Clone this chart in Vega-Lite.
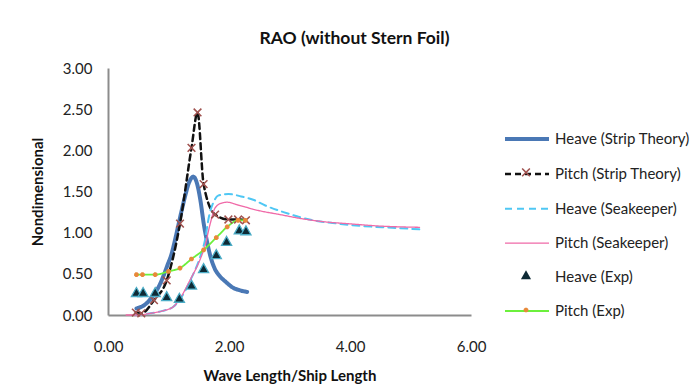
{
  "$schema": "https://vega.github.io/schema/vega-lite/v6.json",
  "width": 363,
  "height": 247,
  "autosize": {"type": "none"},
  "padding": {"left": 108, "top": 68, "right": 225, "bottom": 73},
  "background": "white",
  "title": {"text": "RAO (without Stern Foil)", "anchor": "middle", "dx": 65, "offset": 14, "font": "Lato", "fontSize": 17.5, "fontWeight": "bold", "color": "#111111"},
  "config": {
    "view": {"stroke": null},
    "font": "Lato",
    "axis": {"grid": false, "ticks": false, "domain": true, "domainColor": "#8c8c8c", "domainWidth": 2, "labelFlush": false, "labelFont": "Lato", "labelFontSize": 15, "labelColor": "#222222", "titleFont": "Lato", "titleFontSize": 15, "titleFontWeight": "bold", "titleColor": "#111111"}
  },
  "datasets": {
    "lines": [
      {"series": "Heave (Strip Theory)", "x": 0.47, "y": 0.08},
      {"series": "Heave (Strip Theory)", "x": 0.6, "y": 0.12},
      {"series": "Heave (Strip Theory)", "x": 0.75, "y": 0.24},
      {"series": "Heave (Strip Theory)", "x": 0.85, "y": 0.36},
      {"series": "Heave (Strip Theory)", "x": 0.92, "y": 0.48},
      {"series": "Heave (Strip Theory)", "x": 0.98, "y": 0.6},
      {"series": "Heave (Strip Theory)", "x": 1.05, "y": 0.74},
      {"series": "Heave (Strip Theory)", "x": 1.12, "y": 0.95},
      {"series": "Heave (Strip Theory)", "x": 1.19, "y": 1.18},
      {"series": "Heave (Strip Theory)", "x": 1.27, "y": 1.43},
      {"series": "Heave (Strip Theory)", "x": 1.34, "y": 1.61},
      {"series": "Heave (Strip Theory)", "x": 1.41, "y": 1.68},
      {"series": "Heave (Strip Theory)", "x": 1.47, "y": 1.6},
      {"series": "Heave (Strip Theory)", "x": 1.53, "y": 1.38},
      {"series": "Heave (Strip Theory)", "x": 1.58, "y": 1.12},
      {"series": "Heave (Strip Theory)", "x": 1.64, "y": 0.88},
      {"series": "Heave (Strip Theory)", "x": 1.69, "y": 0.72},
      {"series": "Heave (Strip Theory)", "x": 1.76, "y": 0.57},
      {"series": "Heave (Strip Theory)", "x": 1.85, "y": 0.47},
      {"series": "Heave (Strip Theory)", "x": 1.95, "y": 0.4},
      {"series": "Heave (Strip Theory)", "x": 2.07, "y": 0.33},
      {"series": "Heave (Strip Theory)", "x": 2.18, "y": 0.3},
      {"series": "Heave (Strip Theory)", "x": 2.3, "y": 0.28},
      {"series": "Pitch (Strip Theory)", "x": 0.46, "y": 0.03},
      {"series": "Pitch (Strip Theory)", "x": 0.55, "y": 0.02},
      {"series": "Pitch (Strip Theory)", "x": 0.76, "y": 0.18},
      {"series": "Pitch (Strip Theory)", "x": 0.97, "y": 0.42},
      {"series": "Pitch (Strip Theory)", "x": 1.19, "y": 1.11},
      {"series": "Pitch (Strip Theory)", "x": 1.38, "y": 2.03},
      {"series": "Pitch (Strip Theory)", "x": 1.48, "y": 2.46},
      {"series": "Pitch (Strip Theory)", "x": 1.58, "y": 1.59},
      {"series": "Pitch (Strip Theory)", "x": 1.77, "y": 1.22},
      {"series": "Pitch (Strip Theory)", "x": 1.99, "y": 1.16},
      {"series": "Pitch (Strip Theory)", "x": 2.15, "y": 1.16},
      {"series": "Pitch (Strip Theory)", "x": 2.28, "y": 1.15},
      {"series": "Heave (Seakeeper)", "x": 0.45, "y": 0.0},
      {"series": "Heave (Seakeeper)", "x": 0.7, "y": 0.02},
      {"series": "Heave (Seakeeper)", "x": 0.9, "y": 0.05},
      {"series": "Heave (Seakeeper)", "x": 1.08, "y": 0.1},
      {"series": "Heave (Seakeeper)", "x": 1.19, "y": 0.19},
      {"series": "Heave (Seakeeper)", "x": 1.36, "y": 0.42},
      {"series": "Heave (Seakeeper)", "x": 1.52, "y": 0.7},
      {"series": "Heave (Seakeeper)", "x": 1.6, "y": 0.9},
      {"series": "Heave (Seakeeper)", "x": 1.67, "y": 1.2},
      {"series": "Heave (Seakeeper)", "x": 1.75, "y": 1.38},
      {"series": "Heave (Seakeeper)", "x": 1.82, "y": 1.45},
      {"series": "Heave (Seakeeper)", "x": 1.99, "y": 1.47},
      {"series": "Heave (Seakeeper)", "x": 2.2, "y": 1.44},
      {"series": "Heave (Seakeeper)", "x": 2.4, "y": 1.4},
      {"series": "Heave (Seakeeper)", "x": 2.6, "y": 1.33},
      {"series": "Heave (Seakeeper)", "x": 2.9, "y": 1.25},
      {"series": "Heave (Seakeeper)", "x": 3.39, "y": 1.15},
      {"series": "Heave (Seakeeper)", "x": 3.8, "y": 1.11},
      {"series": "Heave (Seakeeper)", "x": 4.22, "y": 1.08},
      {"series": "Heave (Seakeeper)", "x": 4.7, "y": 1.06},
      {"series": "Heave (Seakeeper)", "x": 5.15, "y": 1.04},
      {"series": "Pitch (Seakeeper)", "x": 0.3, "y": 0.0},
      {"series": "Pitch (Seakeeper)", "x": 0.5, "y": 0.0},
      {"series": "Pitch (Seakeeper)", "x": 0.7, "y": 0.02},
      {"series": "Pitch (Seakeeper)", "x": 0.9, "y": 0.05},
      {"series": "Pitch (Seakeeper)", "x": 1.08, "y": 0.1},
      {"series": "Pitch (Seakeeper)", "x": 1.19, "y": 0.2},
      {"series": "Pitch (Seakeeper)", "x": 1.36, "y": 0.43},
      {"series": "Pitch (Seakeeper)", "x": 1.52, "y": 0.67},
      {"series": "Pitch (Seakeeper)", "x": 1.6, "y": 0.83},
      {"series": "Pitch (Seakeeper)", "x": 1.69, "y": 1.11},
      {"series": "Pitch (Seakeeper)", "x": 1.77, "y": 1.3},
      {"series": "Pitch (Seakeeper)", "x": 1.88, "y": 1.36},
      {"series": "Pitch (Seakeeper)", "x": 1.97, "y": 1.37},
      {"series": "Pitch (Seakeeper)", "x": 2.13, "y": 1.34},
      {"series": "Pitch (Seakeeper)", "x": 2.48, "y": 1.27},
      {"series": "Pitch (Seakeeper)", "x": 2.84, "y": 1.22},
      {"series": "Pitch (Seakeeper)", "x": 3.2, "y": 1.17},
      {"series": "Pitch (Seakeeper)", "x": 3.6, "y": 1.13},
      {"series": "Pitch (Seakeeper)", "x": 3.95, "y": 1.11},
      {"series": "Pitch (Seakeeper)", "x": 4.5, "y": 1.08},
      {"series": "Pitch (Seakeeper)", "x": 5.15, "y": 1.065},
      {"series": "Pitch (Exp)", "x": 0.47, "y": 0.49},
      {"series": "Pitch (Exp)", "x": 0.57, "y": 0.49},
      {"series": "Pitch (Exp)", "x": 0.78, "y": 0.49},
      {"series": "Pitch (Exp)", "x": 1.0, "y": 0.53},
      {"series": "Pitch (Exp)", "x": 1.19, "y": 0.57},
      {"series": "Pitch (Exp)", "x": 1.38, "y": 0.68},
      {"series": "Pitch (Exp)", "x": 1.58, "y": 0.79},
      {"series": "Pitch (Exp)", "x": 1.79, "y": 0.94},
      {"series": "Pitch (Exp)", "x": 1.97, "y": 1.07},
      {"series": "Pitch (Exp)", "x": 2.15, "y": 1.15},
      {"series": "Pitch (Exp)", "x": 2.27, "y": 1.15}
    ],
    "points": [
      {"series": "Pitch (Strip Theory)", "x": 0.46, "y": 0.03},
      {"series": "Pitch (Strip Theory)", "x": 0.55, "y": 0.02},
      {"series": "Pitch (Strip Theory)", "x": 0.76, "y": 0.18},
      {"series": "Pitch (Strip Theory)", "x": 0.97, "y": 0.42},
      {"series": "Pitch (Strip Theory)", "x": 1.19, "y": 1.11},
      {"series": "Pitch (Strip Theory)", "x": 1.38, "y": 2.03},
      {"series": "Pitch (Strip Theory)", "x": 1.48, "y": 2.46},
      {"series": "Pitch (Strip Theory)", "x": 1.58, "y": 1.59},
      {"series": "Pitch (Strip Theory)", "x": 1.77, "y": 1.22},
      {"series": "Pitch (Strip Theory)", "x": 1.99, "y": 1.16},
      {"series": "Pitch (Strip Theory)", "x": 2.15, "y": 1.16},
      {"series": "Pitch (Strip Theory)", "x": 2.28, "y": 1.15},
      {"series": "Heave (Exp)", "x": 0.47, "y": 0.27},
      {"series": "Heave (Exp)", "x": 0.58, "y": 0.27},
      {"series": "Heave (Exp)", "x": 0.78, "y": 0.27},
      {"series": "Heave (Exp)", "x": 0.97, "y": 0.22},
      {"series": "Heave (Exp)", "x": 1.18, "y": 0.2},
      {"series": "Heave (Exp)", "x": 1.38, "y": 0.36},
      {"series": "Heave (Exp)", "x": 1.58, "y": 0.56},
      {"series": "Heave (Exp)", "x": 1.79, "y": 0.73},
      {"series": "Heave (Exp)", "x": 1.96, "y": 0.89},
      {"series": "Heave (Exp)", "x": 2.17, "y": 1.03},
      {"series": "Heave (Exp)", "x": 2.28, "y": 1.02},
      {"series": "Pitch (Exp)", "x": 0.47, "y": 0.49},
      {"series": "Pitch (Exp)", "x": 0.57, "y": 0.49},
      {"series": "Pitch (Exp)", "x": 0.78, "y": 0.49},
      {"series": "Pitch (Exp)", "x": 1.0, "y": 0.53},
      {"series": "Pitch (Exp)", "x": 1.19, "y": 0.57},
      {"series": "Pitch (Exp)", "x": 1.38, "y": 0.68},
      {"series": "Pitch (Exp)", "x": 1.58, "y": 0.79},
      {"series": "Pitch (Exp)", "x": 1.79, "y": 0.94},
      {"series": "Pitch (Exp)", "x": 1.97, "y": 1.07},
      {"series": "Pitch (Exp)", "x": 2.15, "y": 1.15},
      {"series": "Pitch (Exp)", "x": 2.27, "y": 1.15}
    ]
  },
  "layer": [
    {
      "data": {"name": "lines"},
      "mark": {"type": "line", "interpolate": "monotone", "strokeCap": "round"},
      "encoding": {
        "x": {"field": "x", "type": "quantitative", "scale": {"domain": [0, 6], "nice": false}, "axis": {"values": [0, 2, 4, 6], "format": ".2f", "title": "Wave Length/Ship Length", "labelPadding": 24, "titlePadding": 14, "domain": true, "domainColor": "#8c8c8c", "domainWidth": 2}},
        "y": {"field": "y", "type": "quantitative", "scale": {"domain": [0, 3], "nice": false}, "axis": {"values": [0, 0.5, 1, 1.5, 2, 2.5, 3], "format": ".2f", "title": "Nondimensional", "labelPadding": 16, "titlePadding": 17, "domain": true, "domainColor": "#8c8c8c", "domainWidth": 2}},
        "stroke": {"field": "series", "type": "nominal",
          "scale": {"domain": ["Heave (Strip Theory)", "Pitch (Strip Theory)", "Heave (Seakeeper)", "Pitch (Seakeeper)", "Heave (Exp)", "Pitch (Exp)"], "range": ["#4a78b5", "#111111", "#4fc7f4", "#f06aa8", "transparent", "#6cf03c"]},
          "legend": {"orient": "none", "legendX": 395, "legendY": 47, "title": null, "symbolType": "stroke", "symbolSize": 1936, "labelFont": "Lato", "labelFontSize": 15, "labelColor": "#222222", "labelOffset": 4, "rowPadding": 3.4, "padding": 0, "labelLimit": 300,
            "encode": {"entries": {"update": {"height": {"value": 31}, "width": {"value": 44}}}}}},
        "strokeDash": {"field": "series", "type": "nominal",
          "scale": {"domain": ["Heave (Strip Theory)", "Pitch (Strip Theory)", "Heave (Seakeeper)", "Pitch (Seakeeper)", "Heave (Exp)", "Pitch (Exp)"], "range": [[1, 0], [6, 4], [7, 5], [1, 0], [1, 0], [1, 0]]},
          "legend": {"orient": "none", "legendX": 395, "legendY": 47, "title": null, "symbolType": "stroke", "symbolSize": 1936, "labelFont": "Lato", "labelFontSize": 15, "labelColor": "#222222", "labelOffset": 4, "rowPadding": 3.4, "padding": 0, "labelLimit": 300,
            "encode": {"entries": {"update": {"height": {"value": 31}, "width": {"value": 44}}}}}},
        "strokeWidth": {"field": "series", "type": "nominal",
          "scale": {"type": "ordinal", "domain": ["Heave (Strip Theory)", "Pitch (Strip Theory)", "Heave (Seakeeper)", "Pitch (Seakeeper)", "Heave (Exp)", "Pitch (Exp)"], "range": [4, 2.5, 2, 1.3, 0, 1.8]},
          "legend": {"orient": "none", "legendX": 395, "legendY": 47, "title": null, "symbolType": "stroke", "symbolSize": 1936, "labelFont": "Lato", "labelFontSize": 15, "labelColor": "#222222", "labelOffset": 4, "rowPadding": 3.4, "padding": 0, "labelLimit": 300,
            "encode": {"entries": {"update": {"height": {"value": 31}, "width": {"value": 44}}}}}}
      }
    },
    {
      "data": {"name": "points"},
      "mark": {"type": "point", "filled": true, "size": 1936, "opacity": 1},
      "encoding": {
        "x": {"field": "x", "type": "quantitative"},
        "y": {"field": "y", "type": "quantitative"},
        "fill": {"field": "series", "type": "nominal",
          "scale": {"domain": ["Heave (Strip Theory)", "Pitch (Strip Theory)", "Heave (Seakeeper)", "Pitch (Seakeeper)", "Heave (Exp)", "Pitch (Exp)", "_"], "range": ["transparent", "#a0524f", "transparent", "transparent", "#0e2a35", "#e8893a", "transparent"]},
          "legend": {"orient": "none", "legendX": 395, "legendY": 47, "title": null, "values": ["Heave (Strip Theory)", "Pitch (Strip Theory)", "Heave (Seakeeper)", "Pitch (Seakeeper)", "Heave (Exp)", "Pitch (Exp)"], "symbolSize": 1936, "labelExpr": "''", "labelFontSize": 15, "labelOffset": 4, "rowPadding": 3.4, "padding": 0, "symbolStrokeWidth": 1.3,
            "encode": {"symbols": {"update": {"stroke": {"signal": "datum.value === 'Heave (Exp)' ? '#4bacc6' : 'transparent'"}}}, "entries": {"update": {"height": {"value": 31}, "width": {"value": 44}}}}}},
        "shape": {"field": "series", "type": "nominal",
          "scale": {"domain": ["Heave (Strip Theory)", "Pitch (Strip Theory)", "Heave (Seakeeper)", "Pitch (Seakeeper)", "Heave (Exp)", "Pitch (Exp)", "_"], "range": ["M0,0", "M-0.2,-0.15L-0.15,-0.2L0,-0.05L0.15,-0.2L0.2,-0.15L0.05,0L0.2,0.15L0.15,0.2L0,0.05L-0.15,0.2L-0.2,0.15L-0.05,0Z", "M0,0", "M0,0", "M0,-0.24L0.23,0.17L-0.23,0.17Z", "M0.106,0.044L0.044,0.106L-0.044,0.106L-0.106,0.044L-0.106,-0.044L-0.044,-0.106L0.044,-0.106L0.106,-0.044Z", "M0,0"]},
          "legend": {"orient": "none", "legendX": 395, "legendY": 47, "title": null, "values": ["Heave (Strip Theory)", "Pitch (Strip Theory)", "Heave (Seakeeper)", "Pitch (Seakeeper)", "Heave (Exp)", "Pitch (Exp)"], "symbolSize": 1936, "labelExpr": "''", "labelFontSize": 15, "labelOffset": 4, "rowPadding": 3.4, "padding": 0, "symbolStrokeWidth": 1.3,
            "encode": {"symbols": {"update": {"stroke": {"signal": "datum.value === 'Heave (Exp)' ? '#4bacc6' : 'transparent'"}}}, "entries": {"update": {"height": {"value": 31}, "width": {"value": 44}}}}}},
        "stroke": {"condition": {"test": "datum.series === 'Heave (Exp)'", "value": "#4bacc6"}, "value": "transparent"},
        "strokeWidth": {"value": 1.3}
      }
    }
  ]
}
